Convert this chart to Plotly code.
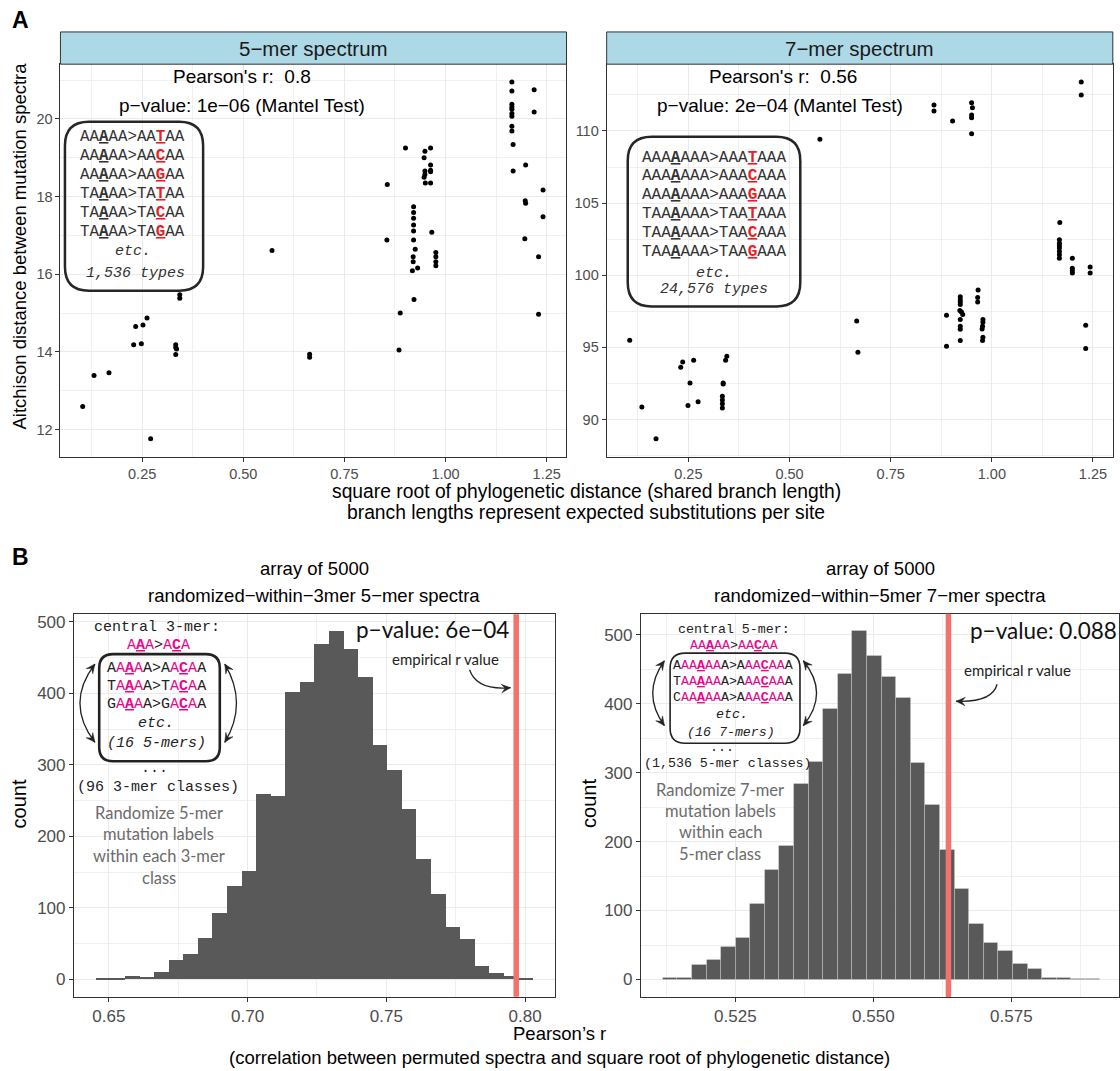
import math
import plotly.graph_objects as go

# ---------------- data ----------------
# Panel A: sqrt phylogenetic distance vs Aitchison distance
kmer5_sqrt_phylo = [1.164, 1.164, 1.219, 1.164, 1.164, 1.164, 1.164, 1.164, 1.219, 1.164, 1.164, 1.167,
                    1.167, 1.198, 1.241, 1.197, 1.198, 1.241, 1.196, 1.230, 1.230,
                    0.901, 0.949, 0.963, 0.947, 0.963, 0.963, 0.949, 0.949, 0.947, 0.963, 0.950, 0.963,
                    0.856, 0.921, 0.921, 0.921, 0.921, 0.921, 0.921, 0.966, 0.855, 0.925, 0.920, 0.920,
                    0.918, 0.931, 0.976, 0.976, 0.976, 0.976, 0.922, 0.888, 0.885,
                    0.571, 0.664, 0.664,
                    0.343, 0.343, 0.262, 0.234, 0.252, 0.229, 0.248, 0.333, 0.333, 0.335, 0.333,
                    0.131, 0.168, 0.103, 0.271]
kmer5_aitchison = [20.95, 20.72, 20.75, 20.38, 20.31, 20.25, 20.14, 20.07, 20.18, 19.81, 19.69, 19.34,
                   18.66, 18.81, 18.17, 17.89, 17.83, 17.48, 16.91, 16.45, 14.97,
                   19.25, 19.17, 19.25, 19.00, 18.81, 18.68, 18.66, 18.57, 18.50, 18.64, 18.35, 18.35,
                   18.31, 17.74, 17.59, 17.44, 17.27, 17.11, 16.88, 17.08, 16.88, 16.64, 16.45, 16.32,
                   16.09, 16.16, 16.56, 16.45, 16.32, 16.22, 15.35, 15.00, 14.05,
                   16.61, 13.94, 13.86,
                   15.47, 15.38, 14.87, 14.65, 14.69, 14.18, 14.21, 14.18, 14.11, 14.07, 13.93,
                   13.39, 13.46, 12.59, 11.76]

kmer7_sqrt_phylo = [0.105, 0.135, 0.170, 0.236, 0.231, 0.263, 0.254, 0.249, 0.274, 0.345, 0.342, 0.336,
                    0.336, 0.334, 0.334, 0.334, 0.334,
                    0.575, 0.666, 0.669,
                    0.857, 0.857, 0.903, 0.950, 0.952, 0.950, 0.950, 0.950,
                    0.888, 0.888,
                    0.922, 0.922, 0.922, 0.922, 0.921, 0.925, 0.928, 0.922, 0.922, 0.922, 0.922,
                    0.966, 0.965, 0.965,
                    0.978, 0.978, 0.977, 0.976, 0.978, 0.977,
                    1.221, 1.221,
                    1.168, 1.167, 1.167, 1.167, 1.167, 1.167, 1.167, 1.167,
                    1.199, 1.199, 1.199, 1.199,
                    1.243, 1.243, 1.232, 1.232]
kmer7_aitchison = [95.49, 90.87, 88.66, 93.99, 93.62, 94.10, 92.53, 90.97, 91.22, 94.38, 94.10, 92.53,
                   92.46, 91.61, 91.34, 91.08, 90.80,
                   109.42, 96.82, 94.66,
                   111.80, 111.38, 110.69, 111.96, 111.61, 111.11, 110.92, 109.81,
                   97.22, 95.07,
                   98.51, 98.30, 98.14, 97.96, 97.55, 97.45, 97.27, 96.92, 96.46, 96.25, 95.47,
                   98.97, 98.46, 98.14,
                   96.92, 96.73, 96.46, 96.27, 95.70, 95.47,
                   113.39, 112.49,
                   103.65, 102.46, 102.22, 102.06, 101.88, 101.65, 101.42, 101.18,
                   101.18, 100.49, 100.31, 100.15,
                   100.56, 100.15, 96.53, 94.91]

# Panel B: permutation histograms (30 bins each)
perm3_counts = [1, 2, 5, 3, 10, 27, 35, 58, 92, 131, 152, 259, 256, 401, 416, 468, 487, 461, 423, 328,
                292, 238, 168, 119, 73, 56, 18, 9, 5, 1]
perm3_bin_start = 0.6453
perm3_bin_width = 0.00525
perm3_empirical_r = 0.7968

perm5_counts = [2, 2, 21, 29, 47, 61, 110, 159, 194, 284, 315, 392, 444, 506, 469, 439, 409, 314, 253, 188,
                132, 80, 53, 42, 23, 16, 2, 2, 1, 1]
perm5_bin_start = 0.51184
perm5_bin_width = 0.002643
perm5_empirical_r = 0.5636

# tick labels
phylo_ticks = [0.25, 0.50, 0.75, 1.00, 1.25]
phylo_ticktext = ["0.25", "0.50", "0.75", "1.00", "1.25"]
k5_yticks = [12, 14, 16, 18, 20]
k7_yticks = [90, 95, 100, 105, 110]
perm3_xticks = [0.65, 0.70, 0.75, 0.80]
perm3_xticktext = ["0.65", "0.70", "0.75", "0.80"]
perm5_xticks = [0.525, 0.550, 0.575]
perm5_xticktext = ["0.525", "0.550", "0.575"]
count_ticks = [0, 100, 200, 300, 400, 500]

# ---------------- layout helpers ----------------
W, H = 1120, 1071
SANS = "Liberation Sans, Arial, Helvetica, sans-serif"
HUM = "Lato, Open Sans, sans-serif"
MONO = "Liberation Mono, Courier New, monospace"
RED = "#EC1C24"
PINK = "#E8078C"
DARK = "#2B2B2B"
GREY_TXT = "#6B6B6B"


def X(px):
    return px / W


def Y(py):
    return 1 - py / H


def P(px, py):
    return f"{X(px):.5f},{Y(py):.5f}"


shapes = []
anns = []


def ann(text, px, py, size=17, color="#000000", family=SANS, xanchor="center", yanchor="middle", angle=0):
    anns.append(dict(text=text, x=X(px), y=Y(py), xref="paper", yref="paper", showarrow=False,
                     font=dict(size=size, color=color, family=family), xanchor=xanchor,
                     yanchor=yanchor, textangle=angle))


def add_path(d, color=DARK, width=1.3, fill=None):
    shapes.append(dict(type="path", path=d, xref="paper", yref="paper", layer="above",
                       line=dict(color=color, width=width),
                       fillcolor=fill if fill else "rgba(0,0,0,0)"))


def rrect(x0, y0, x1, y1, r, width=2.5, color="#262626"):
    d = (f"M {P(x0 + r, y0)} L {P(x1 - r, y0)} Q {P(x1, y0)} {P(x1, y0 + r)} "
         f"L {P(x1, y1 - r)} Q {P(x1, y1)} {P(x1 - r, y1)} L {P(x0 + r, y1)} "
         f"Q {P(x0, y1)} {P(x0, y1 - r)} L {P(x0, y0 + r)} Q {P(x0, y0)} {P(x0 + r, y0)} Z")
    add_path(d, color=color, width=width)


def arrowhead(tx, ty, dx, dy, L=9, hw=4.2, color="#222222"):
    n = math.hypot(dx, dy)
    ux, uy = dx / n, dy / n
    nx, ny = -uy, ux
    bx, by = tx - ux * L, ty - uy * L
    mx, my = tx - ux * L * 0.6, ty - uy * L * 0.6
    d = (f"M {P(tx, ty)} L {P(bx + nx * hw, by + ny * hw)} L {P(mx, my)} "
         f"L {P(bx - nx * hw, by - ny * hw)} Z")
    add_path(d, color=color, width=0.5, fill=color)


def curve(x0, y0, cx, cy, x1, y1, head_start=False, head_end=True, width=1.3):
    add_path(f"M {P(x0, y0)} Q {P(cx, cy)} {P(x1, y1)}", width=width, color="#222222")
    if head_end:
        arrowhead(x1, y1, x1 - cx, y1 - cy)
    if head_start:
        arrowhead(x0, y0, x0 - cx, y0 - cy)


def ul(ch, color=None):
    s = f"<u><b>{ch}</b></u>"
    if color:
        s = f'<span style="color:{color}">{s}</span>'
    return s


def pk(s):
    return f'<span style="color:{PINK}">{s}</span>'


# ---------------- figure ----------------
fig = go.Figure()

fig.add_trace(go.Scatter(x=kmer5_sqrt_phylo, y=kmer5_aitchison, mode="markers",
                         marker=dict(color="black", size=5), xaxis="x", yaxis="y", showlegend=False))
fig.add_trace(go.Scatter(x=kmer7_sqrt_phylo, y=kmer7_aitchison, mode="markers",
                         marker=dict(color="black", size=5), xaxis="x2", yaxis="y2", showlegend=False))

perm3_centers = [perm3_bin_start + perm3_bin_width * (i + 0.5) for i in range(len(perm3_counts))]
perm5_centers = [perm5_bin_start + perm5_bin_width * (i + 0.5) for i in range(len(perm5_counts))]

fig.add_trace(go.Bar(x=perm3_centers, y=perm3_counts, width=perm3_bin_width,
                     marker=dict(color="#595959", line=dict(width=0)),
                     xaxis="x3", yaxis="y3", showlegend=False))
fig.add_trace(go.Bar(x=perm5_centers, y=perm5_counts, width=perm5_bin_width,
                     marker=dict(color="#595959", line=dict(width=0.7, color="rgba(255,255,255,0.35)")),
                     xaxis="x4", yaxis="y4", showlegend=False))


def axis(domain, rng, tickvals, ticktext=None, minor_dtick=None, size=14.5):
    d = dict(domain=domain, range=rng, showline=True, linecolor="#333333", linewidth=1, mirror=True,
             ticks="outside", ticklen=4, tickcolor="#333333", tickwidth=1,
             showgrid=True, gridcolor="#EBEBEB", gridwidth=1.2, zeroline=False,
             tickmode="array", tickvals=tickvals,
             tickfont=dict(family=SANS, size=size, color="#4D4D4D"), fixedrange=True)
    if ticktext:
        d["ticktext"] = ticktext
    if minor_dtick:
        d["minor"] = dict(showgrid=True, gridcolor="#F0F0F0", gridwidth=0.7, dtick=minor_dtick, tick0=0)
    return d


# pixel geometry
A_top, A_bot = 62.3, 455.5
AL_l, AL_r = 60.5, 567.0
AR_l, AR_r = 607.2, 1113.8
B_top, B_bot = 613.3, 996.7
BL_l, BL_r = 74.0, 555.0
BR_l, BR_r = 641.5, 1120.0

layout = dict(
    width=W, height=H, autosize=False,
    margin=dict(l=0, r=0, t=0, b=0),
    paper_bgcolor="white", plot_bgcolor="white",
    bargap=0,
    xaxis=axis([X(AL_l), X(AL_r)], [0.048, 1.299], phylo_ticks, phylo_ticktext, 0.125),
    yaxis=axis([Y(A_bot), Y(A_top)], [11.30, 21.41], k5_yticks, None, 1),
    xaxis2=axis([X(AR_l), X(AR_r)], [0.048, 1.299], phylo_ticks, phylo_ticktext, 0.125),
    yaxis2=axis([Y(A_bot), Y(A_top)], [87.42, 114.63], k7_yticks, None, 2.5),
    xaxis3=axis([X(BL_l), X(BL_r)], [0.6374, 0.8106], perm3_xticks, perm3_xticktext, 0.025, 17),
    yaxis3=axis([Y(B_bot), Y(B_top)], [-24.3, 510.5], count_ticks, None, 50, 17),
    xaxis4=axis([X(BR_l), 1.0], [0.5079, 0.5945], perm5_xticks, perm5_xticktext, 0.0125, 17),
    yaxis4=axis([Y(996.8), Y(613.0)], [-25.3, 530.3], count_ticks, None, 50, 17),
)
for i in ["", "2", "3", "4"]:
    layout["xaxis" + i]["anchor"] = "y" + i
    layout["yaxis" + i]["anchor"] = "x" + i

# ---- strips for panel A ----
for (l, r, label) in [(AL_l, AL_r, "5\u2212mer spectrum"), (AR_l, AR_r, "7\u2212mer spectrum")]:
    shapes.append(dict(type="rect", xref="paper", yref="paper", x0=X(l), x1=X(r), y0=Y(A_top), y1=Y(30),
                       fillcolor="#ADD8E6", line=dict(color="#333333", width=1), layer="above"))
    ann(label, (l + r) / 2, 46.5, size=20.5, color="#1A1A1A")

# ---- red empirical lines ----
shapes.append(dict(type="line", xref="x3", yref="y3 domain", x0=perm3_empirical_r, x1=perm3_empirical_r,
                   y0=0, y1=1, line=dict(color="#F2736D", width=5.5), layer="above"))
shapes.append(dict(type="line", xref="x4", yref="y4 domain", x0=perm5_empirical_r, x1=perm5_empirical_r,
                   y0=0, y1=1, line=dict(color="#F2736D", width=5.5), layer="above"))

# ---- panel labels ----
ann("<b>A</b>", 21, 18, size=23)
ann("<b>B</b>", 21, 556, size=23)

# ---- panel A text ----
ann("Pearson's r:  0.8", 242.5, 75, size=19)
ann("p\u2212value: 1e\u221206 (Mantel Test)", 242.5, 103.5, size=19)
ann("Pearson's r:  0.56", 784, 75, size=19)
ann("p\u2212value: 2e\u221204 (Mantel Test)", 781, 103.5, size=19)
ann("square root of phylogenetic distance (shared branch length)", 587, 490, size=19.3)
ann("branch lengths represent expected substitutions per site", 587, 511, size=19.3)
ann("Aitchison distance between mutation spectra", 20, 244, size=18.5, angle=-90)

# inset A-left
rrect(65, 120, 203.3, 289.3, 24)
a_left_lines = []
for pre in ["AA", "TA"]:
    for m in ["T", "C", "G"]:
        a_left_lines.append(f"{pre}{ul('A')}AA&gt;{pre}{ul(m, RED)}AA")
for t, yy in zip(a_left_lines, [135, 154, 173, 192, 211, 230]):
    ann(t, 133, yy, size=15.8, color="#333333", family=MONO)
ann("<i>etc.</i>", 133, 250, size=15, color="#333333", family=MONO)
ann("<i>1,536 types</i>", 135.5, 272.5, size=15, color="#333333", family=MONO)

# inset A-right
rrect(628.3, 135, 801, 305, 24)
a_right_lines = []
for pre in ["AAA", "TAA"]:
    for m in ["T", "C", "G"]:
        a_right_lines.append(f"{pre}{ul('A')}AAA&gt;{pre}{ul(m, RED)}AAA")
for t, yy in zip(a_right_lines, [156, 174.5, 193, 212, 231, 250]):
    ann(t, 714.5, yy, size=16, color="#333333", family=MONO)
ann("<i>etc.</i>", 714.5, 272.5, size=15, color="#333333", family=MONO)
ann("<i>24,576 types</i>", 714.5, 288.5, size=15, color="#333333", family=MONO)

# ---- panel B text ----
ann("array of 5000", 314.5, 568, size=18.5)
ann("randomized\u2212within\u22123mer 5\u2212mer spectra", 314.5, 594.5, size=18.5)
ann("array of 5000", 881, 568, size=18.5)
ann("randomized\u2212within\u22125mer 7\u2212mer spectra", 881, 594.5, size=18.5)
ann("count", 19, 803, size=20, angle=-90)
ann("count", 589, 803, size=20, angle=-90)
ann("Pearson\u2019s r", 560, 1033, size=18.5)
ann("(correlation between permuted spectra and square root of phylogenetic distance)", 560, 1057, size=18.5)

ann("p\u2212value: 6e\u221204", 433, 629, size=22.5, color="#111111", family=HUM)
ann("p\u2212value: 0.088", 1044.5, 630, size=22.5, color="#111111", family=HUM)
ann("empirical r value", 445.5, 658.5, size=15, color="#222222", family=HUM)
ann("empirical r value", 1018.5, 669.5, size=15, color="#222222", family=HUM)
curve(470, 669, 477, 690, 511, 687)
curve(998, 683.5, 993, 702, 957, 700.5)

# inset B-left
ann("central 3-mer:", 156.7, 626.7, size=15, color="#222222", family=MONO)
ann(pk("A" + ul("A") + "A") + "&gt;" + pk("A" + ul("C") + "A"), 158.5, 644.5, size=15, color="#222222", family=MONO)
rrect(99.3, 653.3, 220, 760.7, 14, width=2.6, color="#222222")
for c, yy in zip(["A", "T", "G"], [667.7, 685.8, 704]):
    ann(f"{c}{pk('A' + ul('A') + 'A')}A&gt;{c}{pk('A' + ul('C') + 'A')}A", 156.5, yy, size=15,
        color="#222222", family=MONO)
ann("<i>etc.</i>", 156.5, 722.7, size=15, color="#222222", family=MONO)
ann("<i>(16 5-mers)</i>", 156.5, 742.7, size=15, color="#222222", family=MONO)
ann("...", 154.5, 768, size=15, color="#222222", family=MONO)
ann("(96 3-mer classes)", 158.3, 786.7, size=15, color="#222222", family=MONO)
for t, yy in zip(["Randomize 5-mer", "mutation labels", "within each 3-mer", "class"],
                 [812.3, 834, 855.7, 877.3]):
    ann(t, 159, yy, size=16.5, color=GREY_TXT, family=HUM)
curve(95, 663.3, 65, 702.5, 95, 741.7, head_start=True, head_end=True)
curve(225, 663.3, 248.4, 702.5, 225, 741.7, head_start=True, head_end=True)

# inset B-right
ann("central 5-mer:", 735, 629, size=13.3, color="#222222", family=MONO)
ann(pk("AA" + ul("A") + "AA") + "&gt;" + pk("AA" + ul("C") + "AA"), 735, 645, size=13.3,
    color="#222222", family=MONO)
rrect(670.7, 652.3, 800.7, 742.7, 15, width=1.6, color="#222222")
for c, yy in zip(["A", "T", "C"], [664.3, 680.3, 696.7]):
    ann(f"{c}{pk('AA' + ul('A') + 'AA')}A&gt;A{pk('AA' + ul('C') + 'AA')}A", 733.5, yy, size=13.3,
        color="#222222", family=MONO)
ann("<i>etc.</i>", 733, 714.3, size=13.3, color="#222222", family=MONO)
ann("<i>(16 7-mers)</i>", 731.7, 731.7, size=13.3, color="#222222", family=MONO)
ann("...", 723, 746.5, size=13.3, color="#222222", family=MONO)
ann("(1,536 5-mer classes)", 728.3, 763.3, size=13.3, color="#222222", family=MONO)
for t, yy in zip(["Randomize 7-mer", "mutation labels", "within each", "5-mer class"],
                 [789, 810.7, 831.7, 853.3]):
    ann(t, 720.7, yy, size=16.5, color=GREY_TXT, family=HUM)
curve(665, 660, 641.6, 692.5, 665, 725, head_start=True, head_end=True)
curve(804, 660, 830.6, 692.5, 804, 725, head_start=True, head_end=True)

layout["shapes"] = shapes
layout["annotations"] = anns
fig.update_layout(**layout)

post = ("document.documentElement.style.margin='0';document.body.style.margin='0';"
        "document.body.style.padding='0';document.body.style.overflow='hidden';"
        "var gd=document.getElementById('{plot_id}');"
        "if(gd&&gd.parentElement){gd.parentElement.style.margin='0';gd.parentElement.style.padding='0';}"
        "if(gd){gd.style.position='absolute';gd.style.left='0px';gd.style.top='0px';}")
fig.write_html("out.html", post_script=post, config={"displayModeBar": False})
